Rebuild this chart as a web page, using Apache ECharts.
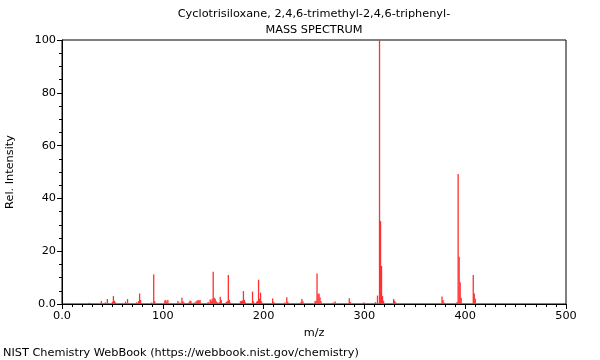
<!DOCTYPE html>
<html>
<head>
<meta charset="utf-8">
<script src="https://cdn.jsdelivr.net/npm/echarts@6/dist/echarts.min.js"></script>
<style>
html,body{margin:0;padding:0;background:#fff;}
#chart{width:600px;height:360px;}
</style>
</head>
<body>
<div id="chart"></div>
<script>
const titleLines = ['Cyclotrisiloxane, 2,4,6-trimethyl-2,4,6-triphenyl-', 'MASS SPECTRUM'];
const footer = 'NIST Chemistry WebBook (https://webbook.nist.gov/chemistry)';
const xLabel = 'm/z';
const yLabel = 'Rel. Intensity';

const mz = [27,28,39,43,45,50,51,52,53,63,65,74,76,77,78,89,91,92,102,103,104,105,115,117,119,120,121,126,127,128,131,133,134,135,136,137,145,147,148,149,150,151,152,153,154,156,157,158,163,164,165,166,167,177,178,179,180,181,182,189,190,193,194,195,196,197,198,209,210,211,221,223,224,237,238,239,251,252,253,254,255,256,257,269,271,285,286,299,300,311,313,315,316,317,318,319,329,330,331,377,378,379,392,393,394,395,396,408,409,410];
const intensity = [0.5,0.4,1.1,0.6,1.9,0.8,3.0,1.2,0.6,0.9,1.9,0.6,1.1,4.0,1.5,0.6,11.2,1.0,1.3,1.5,0.8,1.5,1.1,0.6,2.4,1.0,0.6,0.7,1.3,1.0,0.6,1.0,1.2,1.5,1.3,1.5,0.8,1.7,1.2,2.0,12.2,2.4,2.0,1.0,0.6,0.7,2.7,1.5,0.8,1.0,11.0,1.5,0.6,1.0,1.2,1.3,4.9,1.5,0.6,4.7,1.0,0.8,1.2,9.2,2.0,4.3,1.0,2.1,0.8,0.4,0.6,2.6,0.8,0.7,1.9,1.0,1.0,1.2,11.6,3.8,4.0,2.5,1.0,0.6,0.9,2.2,0.8,0.5,0.5,0.7,3.2,100,31.4,14.4,3.0,1.2,1.9,1.2,0.6,2.8,1.5,0.6,0.8,49.2,17.9,8.2,2.4,11.0,4.0,2.0];

const xTicks = {min:0, max:500, interval:100};
const yTicks = {min:0, max:100, interval:20};

const font = 'DejaVu Sans';
const fs = 11.3;
const chart = echarts.init(document.getElementById('chart'), null, {renderer:'canvas'});
const data = mz.map((m,i)=>[m, intensity[i]]);
const txt = (s, x, y, align) => ({type:'text', x:x, y:y, style:{text:s, fill:'#000', font:fs+'px "'+font+'"', textAlign:align, textVerticalAlign:'middle'}});
chart.setOption({
  animation:false,
  backgroundColor:'#fff',
  graphic:[
    txt(titleLines[0], 314, 14, 'center'),
    txt(titleLines[1], 314, 30, 'center'),
    txt(footer, 3, 353, 'left')
  ],
  grid:{left:62, right:34, top:40, bottom:56, containLabel:false, outerBoundsMode:'none', show:true, borderColor:'#000', borderWidth:1, backgroundColor:'transparent'},
  xAxis:{
    type:'value', min:xTicks.min, max:xTicks.max, interval:xTicks.interval,
    name:xLabel, nameLocation:'middle', nameGap:24,
    nameTextStyle:{fontFamily:font, fontSize:fs, color:'#000'},
    axisLine:{show:true, lineStyle:{color:'#000', width:1}},
    axisTick:{show:true, length:5, lineStyle:{color:'#000'}},
    minorTick:{show:true, splitNumber:10, length:3, lineStyle:{color:'#000'}},
    splitLine:{show:false},
    axisLabel:{fontFamily:font, fontSize:fs, color:'#000', margin:7, formatter:v=> v===0?'0.0':String(v)}
  },
  yAxis:{
    type:'value', min:yTicks.min, max:yTicks.max, interval:yTicks.interval,
    name:yLabel, nameLocation:'middle', nameGap:46, nameRotate:90,
    nameTextStyle:{fontFamily:font, fontSize:fs, color:'#000'},
    axisLine:{show:true, lineStyle:{color:'#000', width:1}},
    axisTick:{show:true, length:5, lineStyle:{color:'#000'}},
    minorTick:{show:true, splitNumber:4, length:3, lineStyle:{color:'#000'}},
    splitLine:{show:false},
    axisLabel:{fontFamily:font, fontSize:fs, color:'#000', margin:6, formatter:v=> v===0?'0.0':String(v)}
  },
  series:[{
    type:'bar', data:data, barWidth:1.3, barGap:'-100%',
    itemStyle:{color:'#ff3030'}, silent:true, z:1
  }]
});
</script>
</body>
</html>
